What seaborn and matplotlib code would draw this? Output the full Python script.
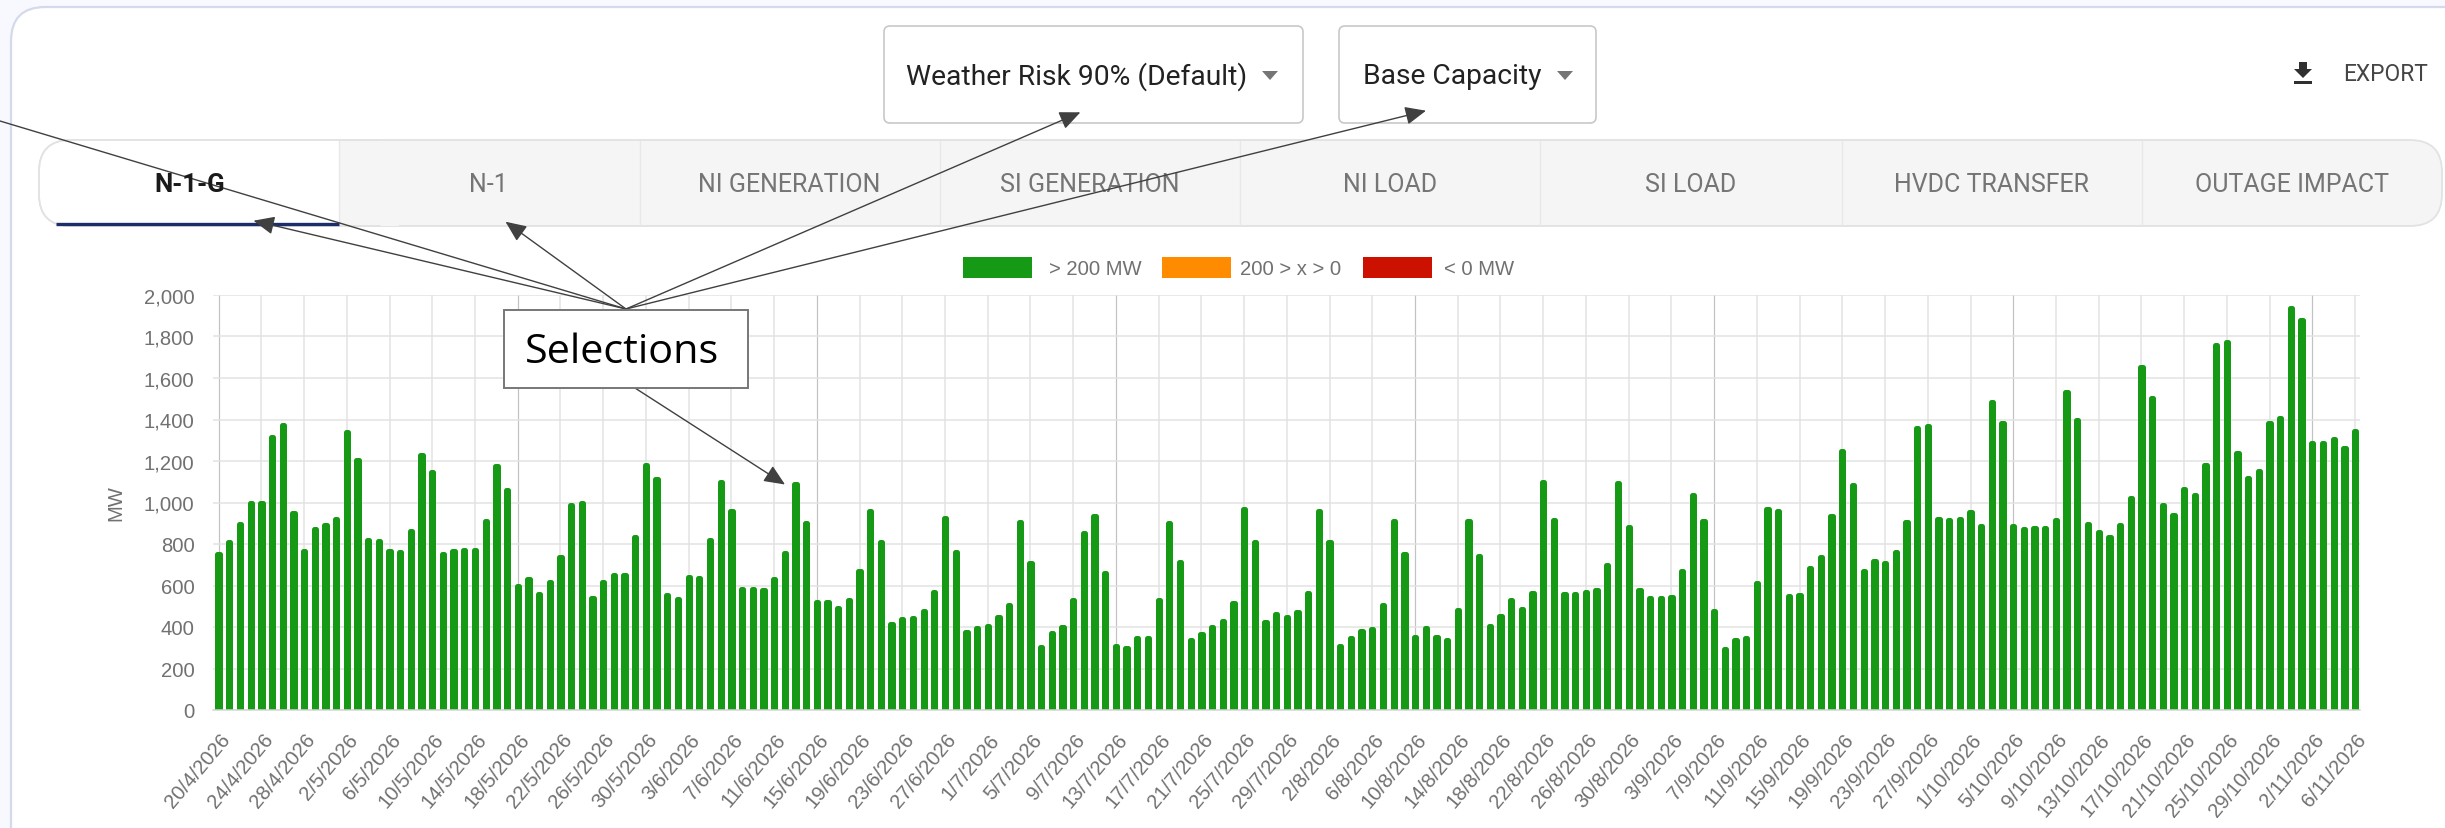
import numpy as np
import pandas as pd
import matplotlib
matplotlib.use("Agg")
import matplotlib.pyplot as plt
from matplotlib.patches import Rectangle, FancyBboxPatch, Polygon
from matplotlib.transforms import ScaledTranslation
import seaborn as sns

W, H = 2445, 829

start_date = "2026-04-20"
mw_values = [
    765, 820, 910, 1010, 1012, 1327, 1385, 960, 780, 886,
    905, 932, 1350, 1218, 830, 825, 780, 775, 873, 1240,
    1160, 763, 780, 785, 785, 925, 1188, 1072, 612, 645,
    570, 630, 750, 1002, 1012, 550, 630, 662, 662, 845,
    1192, 1125, 565, 545, 652, 650, 830, 1110, 971, 593,
    593, 592, 642, 769, 1103, 914, 531, 531, 502, 540,
    680, 973, 823, 425, 452, 457, 487, 583, 937, 774,
    388, 405, 415, 459, 519, 917, 722, 317, 383, 413,
    541, 863, 948, 674, 319, 310, 359, 361, 540, 915,
    725, 351, 379, 413, 443, 528, 981, 823, 437, 474,
    459, 486, 577, 971, 823, 319, 357, 391, 401, 519,
    921, 762, 364, 408, 362, 349, 494, 921, 752, 416,
    464, 540, 497, 575, 1113, 929, 572, 573, 582, 590,
    713, 1108, 895, 592, 551, 553, 555, 680, 1049, 922,
    487, 307, 349, 361, 626, 981, 969, 560, 568, 695,
    747, 948, 1261, 1094, 681, 730, 720, 774, 919, 1372,
    1381, 934, 926, 934, 968, 900, 1497, 1396, 900, 882,
    890, 888, 929, 1544, 1411, 909, 868, 845, 904, 1033,
    1666, 1517, 1001, 952, 1079, 1049, 1194, 1772, 1787, 1249,
    1130, 1162, 1393, 1418, 1949, 1890, 1300, 1298, 1317, 1273,
    1356,
]
y_ticks = [0, 200, 400, 600, 800, 1000, 1200, 1400, 1600, 1800, 2000]
legend_labels = ["> 200 MW", "200 > x > 0", "< 0 MW"]
legend_colors = ["#169a16", "#ff8c00", "#cc1100"]
tab_labels = ["N-1-G", "N-1", "NI GENERATION", "SI GENERATION", "NI LOAD", "SI LOAD",
              "HVDC TRANSFER", "OUTAGE IMPACT"]
dropdown_labels = ["Weather Risk 90% (Default)", "Base Capacity"]

dates = pd.date_range(start_date, periods=len(mw_values), freq="D")
date_labels = [f"{d.day}/{d.month}/{d.year}" for d in dates]
df = pd.DataFrame({"date": date_labels, "MW": mw_values})

sns.set_theme(style="whitegrid")
plt.rcParams["font.family"] = ["Liberation Sans", "DejaVu Sans"]

fig = plt.figure(figsize=(W / 100, H / 100), dpi=100, facecolor="white")

GREY = "#717171"
px = 0.72
ax_l, ax_r, ax_t, ax_b = 213.3, 2360.4, 296, 711
ax = fig.add_axes([ax_l / W, 1 - ax_b / H, (ax_r - ax_l) / W, (ax_b - ax_t) / H])
ax.set_facecolor("none")

edge_px = 5
sns.barplot(data=df, x="date", y="MW", color=legend_colors[0], saturation=1,
            width=2.3 / 10.68, linewidth=edge_px * px, edgecolor=legend_colors[0], ax=ax)
pad = (edge_px / 2) * 2000 / (ax_b - ax_t)
for p in ax.patches:
    p.set_joinstyle("round")
    p.set_height(p.get_height() - pad)

ax.set_xlim(-0.5, len(mw_values) - 0.5)
ax.set_ylim(0, 2000)
ax.set_yticks(y_ticks)
ax.set_yticklabels([f"{v:,}" for v in y_ticks])
tick_pos = list(range(0, len(mw_values), 4))
ax.set_xticks(tick_pos)
ax.set_xticklabels([date_labels[i] for i in tick_pos], rotation=50, ha="right",
                   va="center", rotation_mode="anchor")
ax.set_axisbelow(True)
ax.grid(True, color="#e2e2e2", linewidth=1.5 * px)
ax.tick_params(axis="both", length=10, width=1.5 * px, color="#dedede",
               labelcolor=GREY, labelsize=14.6)
ax.tick_params(axis="y", pad=3.6)
ax.tick_params(axis="x", pad=8.5)
shift = ScaledTranslation(8 / 100, 0, fig.dpi_scale_trans)
for lab in ax.get_xticklabels():
    lab.set_transform(lab.get_transform() + shift)
for i, (gl, tk) in enumerate(zip(ax.xaxis.get_gridlines(), ax.xaxis.get_major_ticks())):
    if i % 7 == 0:
        gl.set_color("#c2c2c2")
        gl.set_linewidth(1.2 * px)
        tk.tick1line.set_color("#c2c2c2")
for s in ax.spines.values():
    s.set_visible(False)
ax.spines["bottom"].set_visible(True)
ax.spines["bottom"].set_color("#d5d5d5")
ax.spines["bottom"].set_linewidth(1.5 * px)
ax.set_xlabel("")
ax.set_ylabel("")

# page chrome, in pixel coordinates
ui = fig.add_axes([0, 0, 1, 1], facecolor="none")
ui.set_xlim(0, W)
ui.set_ylim(H, 0)
ui.axis("off")
fig.patches.append(Rectangle((0, 0), 1, 1, transform=fig.transFigure, fc="#f8f9fe", ec="none", zorder=-10))
fig.patches.append(FancyBboxPatch((11 / W, -0.2), (W + 40) / W, 1.2 - 8 / H,
                                  boxstyle="round,pad=0,rounding_size=0.014", mutation_aspect=W / H,
                                  transform=fig.transFigure, fc="white", ec="#d5d9ec", lw=1.6, zorder=-9))

ui.text(116, 503, "MW", rotation=90, ha="center", va="center", color=GREY, fontsize=14.6)

# dropdowns
for (x0, x1), label, tx, tri in zip([(884, 1303), (1339, 1596)], dropdown_labels, [906, 1363], [1270, 1565]):
    ui.add_patch(FancyBboxPatch((x0, 27), x1 - x0, 97, boxstyle="round,pad=0,rounding_size=6",
                                fc="white", ec="#c8c8c8", lw=1.2))
    ui.text(tx, 76.5, label, ha="left", va="center", color="#222222", fontsize=20.3, family="Roboto")
    ui.add_patch(Polygon([(tri - 8, 72), (tri + 8, 72), (tri, 81)], fc="#757575", ec="none"))

# export
ui.add_patch(Polygon([(2299, 63), (2307, 63), (2307, 70), (2312, 70), (2303, 79), (2294, 70), (2299, 70)],
                     fc="#303030", ec="none"))
ui.add_patch(Rectangle((2294, 82), 18, 3, fc="#303030", ec="none"))
ui.text(2386, 74, "EXPORT", ha="center", va="center", color="#454545", fontsize=16.4, family="Roboto")

# tabs
ui.add_patch(FancyBboxPatch((39, 141), 2403, 86, boxstyle="round,pad=0,rounding_size=32",
                            fc="#f5f5f5", ec="#e2e2e2", lw=1.3))
ui.add_patch(FancyBboxPatch((39, 141), 340, 86, boxstyle="round,pad=0,rounding_size=32",
                            fc="white", ec="#e2e2e2", lw=1.3))
ui.add_patch(Rectangle((339, 142), 60, 84.5, fc="#f5f5f5", ec="none"))
for xd in [339, 640, 940, 1240, 1540, 1842, 2142]:
    ui.plot([xd, xd], [142, 226], color="#e8e8e8", lw=1)
ui.plot([339, 380], [141, 141], color="#e2e2e2", lw=1.3)
ui.plot([339, 380], [227, 227], color="#e2e2e2", lw=1.3)
ui.plot([56, 339], [224.5, 224.5], color="#1c2d6b", lw=2.4, solid_capstyle="butt")
for i, (xc, label) in enumerate(zip([190, 488, 789, 1090, 1390, 1691, 1991, 2292], tab_labels)):
    ui.text(xc, 184.5, label, ha="center", va="center", family="Roboto",
            fontsize=18.6 if i == 0 else 18.0,
            color="#1a1a1a" if i == 0 else "#757575", fontweight="bold" if i == 0 else "normal")

# legend
for (x0, x1, tx), label, col in zip([(963, 1032, 1049), (1162, 1231, 1240), (1363, 1432, 1444)],
                                    legend_labels, legend_colors):
    ui.add_patch(Rectangle((x0, 258), x1 - x0, 21, fc=col, ec="none"))
    ui.text(tx, 269, label, ha="left", va="center", color=GREY, fontsize=14.6)

# annotation callout
ARROW = "#404040"
apex = (626, 310)
ui.plot([0, apex[0]], [122, apex[1]], color=ARROW, lw=1.0)
for tip in [(253.5, 221.7), (505.5, 222.7), (1080.4, 113.3), (1426, 111.7)]:
    ui.annotate("", xy=tip, xytext=apex, xycoords="data", textcoords="data",
                arrowprops=dict(arrowstyle="-|>,head_length=0.8,head_width=0.35", mutation_scale=16,
                                color=ARROW, lw=1.0, shrinkA=0, shrinkB=0))
ui.annotate("", xy=(785, 485.5), xytext=(635, 389), xycoords="data", textcoords="data",
            arrowprops=dict(arrowstyle="-|>,head_length=0.8,head_width=0.35", mutation_scale=16,
                            color=ARROW, lw=1.0, shrinkA=0, shrinkB=0))
ui.add_patch(Rectangle((504, 311), 244, 78, fc="white", ec="#777777", lw=1.4, zorder=5))
ui.text(525, 353, "Selections", ha="left", va="center", color="black", fontsize=29.8,
        family="Open Sans", zorder=6)

fig.savefig("out.png", dpi=100)
